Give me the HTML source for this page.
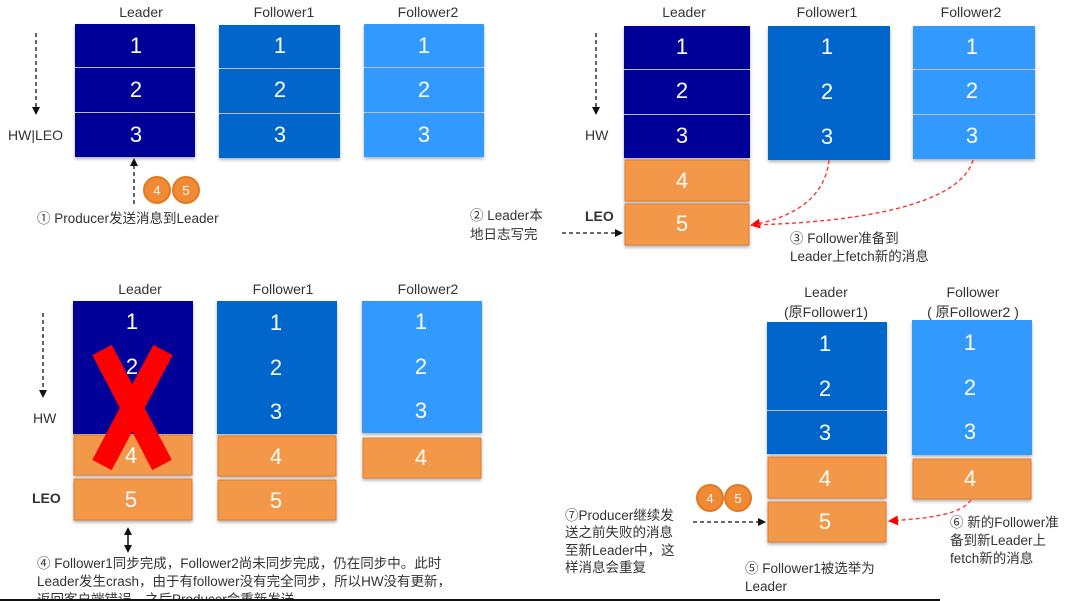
<!DOCTYPE html>
<html><head><meta charset="utf-8"><style>
html,body{margin:0;padding:0;background:#fff;width:1080px;height:601px;overflow:hidden}
svg{display:block}
text{font-family:"Liberation Sans","Noto Sans CJK SC",sans-serif}
.n{fill:#fff;font-size:22px;text-anchor:middle}
.l{fill:#333;font-size:14px;text-anchor:middle}
.t{fill:#333;font-size:13.5px}
</style></head><body>
<svg width="1080" height="601" viewBox="0 0 1080 601">
<defs>
<marker id="ab" markerWidth="8" markerHeight="8" refX="6" refY="4" orient="auto-start-reverse" markerUnits="userSpaceOnUse"><path d="M0,0 L8,4 L0,8 z" fill="#111"/></marker>
<marker id="ar" markerWidth="10" markerHeight="10" refX="8" refY="5" orient="auto" markerUnits="userSpaceOnUse"><path d="M0,0 L10,5 L0,10 z" fill="#f00"/></marker>
<filter id="sh" x="-10%" y="-10%" width="120%" height="130%"><feDropShadow dx="0" dy="2" stdDeviation="1.5" flood-color="#000" flood-opacity="0.3"/></filter>
</defs>
<g filter="url(#sh)">
<rect x="75" y="24" width="120" height="43" fill="#000099"/><rect x="75" y="68" width="120" height="44" fill="#000099"/><rect x="75" y="113" width="120" height="44" fill="#000099"/>
<rect x="219" y="25" width="121" height="43" fill="#0066cc"/><rect x="219" y="69" width="121" height="44" fill="#0066cc"/><rect x="219" y="114" width="121" height="44" fill="#0066cc"/>
<rect x="364" y="24" width="120" height="43" fill="#3399ff"/><rect x="364" y="68" width="120" height="44" fill="#3399ff"/><rect x="364" y="113" width="120" height="44" fill="#3399ff"/>
<rect x="624" y="26" width="126" height="43" fill="#000099"/><rect x="624" y="70" width="126" height="44" fill="#000099"/><rect x="624" y="115" width="126" height="43" fill="#000099"/>
<rect x="625" y="160" width="124" height="41" fill="#f39748" stroke="#e07b30"/><rect x="625" y="204" width="124" height="41" fill="#f39748" stroke="#e07b30"/>
<rect x="768" y="26" width="122" height="134" fill="#0066cc"/>
<rect x="913" y="26" width="122" height="43" fill="#3399ff"/><rect x="913" y="70" width="122" height="44" fill="#3399ff"/><rect x="913" y="115" width="122" height="44" fill="#3399ff"/>
<rect x="73" y="301" width="120" height="133" fill="#000099"/>
<rect x="74" y="435" width="118" height="40" fill="#f39748" stroke="#e07b30"/><rect x="74" y="479" width="118" height="41" fill="#f39748" stroke="#e07b30"/>
<rect x="217" y="301" width="120" height="133" fill="#0066cc"/>
<rect x="218" y="436" width="118" height="40" fill="#f39748" stroke="#e07b30"/><rect x="218" y="480" width="118" height="40" fill="#f39748" stroke="#e07b30"/>
<rect x="362" y="301" width="120" height="132" fill="#3399ff"/>
<rect x="363" y="438" width="118" height="40" fill="#f39748" stroke="#e07b30"/>
<rect x="767" y="322" width="120" height="88" fill="#0066cc"/><rect x="767" y="411" width="120" height="43" fill="#0066cc"/>
<rect x="768" y="457" width="118" height="41" fill="#f39748" stroke="#e07b30"/><rect x="768" y="502" width="118" height="40" fill="#f39748" stroke="#e07b30"/>
<rect x="912" y="320" width="120" height="135" fill="#3399ff"/>
<rect x="913" y="459" width="118" height="40" fill="#f39748" stroke="#e07b30"/>
</g>
<g class="n">
<text x="136" y="53">1</text><text x="136" y="97">2</text><text x="136" y="142">3</text>
<text x="280" y="53">1</text><text x="280" y="97">2</text><text x="280" y="142">3</text>
<text x="424" y="53">1</text><text x="424" y="97">2</text><text x="424" y="142">3</text>
<text x="682" y="54">1</text><text x="682" y="98">2</text><text x="682" y="143">3</text><text x="682" y="188">4</text><text x="682" y="231">5</text>
<text x="827" y="54">1</text><text x="827" y="99">2</text><text x="827" y="144">3</text>
<text x="972" y="54">1</text><text x="972" y="98">2</text><text x="972" y="143">3</text>
<text x="132" y="329">1</text><text x="132" y="374">2</text><text x="131" y="463">4</text><text x="131" y="507">5</text>
<text x="276" y="330">1</text><text x="276" y="375">2</text><text x="276" y="419">3</text><text x="276" y="464">4</text><text x="276" y="508">5</text>
<text x="421" y="329">1</text><text x="421" y="374">2</text><text x="421" y="418">3</text><text x="421" y="465">4</text>
<text x="825" y="351">1</text><text x="825" y="396">2</text><text x="825" y="440">3</text><text x="825" y="486">4</text><text x="825" y="529">5</text>
<text x="970" y="350">1</text><text x="970" y="395">2</text><text x="970" y="439">3</text><text x="970" y="486">4</text>
</g>
<g stroke="#f00" stroke-width="22" stroke-linecap="butt">
<line x1="102" y1="350" x2="162" y2="465"/><line x1="163" y1="350" x2="102" y2="465"/>
</g>
<g class="l">
<text x="141" y="17">Leader</text><text x="284" y="17">Follower1</text><text x="428" y="17">Follower2</text>
<text x="684" y="17">Leader</text><text x="827" y="17">Follower1</text><text x="971" y="17">Follower2</text>
<text x="140" y="294">Leader</text><text x="283" y="294">Follower1</text><text x="428" y="294">Follower2</text>
<text x="826" y="297">Leader</text><text x="826" y="317">(原Follower1)</text>
<text x="973" y="297">Follower</text><text x="973" y="317">( 原Follower2 )</text>
</g>
<g fill="#333" font-size="14">
<text x="8" y="140">HW|LEO</text>
<text x="585" y="140">HW</text>
<text x="33" y="423">HW</text>
<text x="585" y="221" font-weight="bold">LEO</text>
<text x="32" y="503" font-weight="bold">LEO</text>
</g>
<g stroke="#111" stroke-width="1.3" stroke-dasharray="4,3" fill="none">
<line x1="36" y1="33" x2="36" y2="113" marker-end="url(#ab)"/>
<line x1="134" y1="204" x2="134" y2="160" marker-end="url(#ab)"/>
<line x1="596" y1="33" x2="596" y2="113" marker-end="url(#ab)"/>
<line x1="562" y1="233" x2="621" y2="233" marker-end="url(#ab)"/>
<line x1="43" y1="313" x2="43" y2="396" marker-end="url(#ab)"/>
<line x1="693" y1="522" x2="764" y2="522" marker-end="url(#ab)"/>
</g>
<g stroke="#111" stroke-width="1.5"><line x1="128" y1="529" x2="128" y2="551" marker-end="url(#ab)" marker-start="url(#ab)"/></g>
<g stroke="#f33" stroke-width="1.4" stroke-dasharray="4,3" fill="none">
<path d="M829,160 C825,200 790,218 752,225" marker-end="url(#ar)"/>
<path d="M973,160 C960,205 860,222 752,225"/>
<path d="M971,500 C960,515 930,518 890,521" marker-end="url(#ar)"/>
</g>
<g stroke="#e27a22" stroke-width="2" fill="#f08a35">
<circle cx="157" cy="190" r="13"/><circle cx="186" cy="190" r="13"/>
<circle cx="710" cy="498" r="13"/><circle cx="738" cy="498" r="13"/>
</g>
<g fill="#fff" font-size="13" text-anchor="middle">
<text x="157" y="195">4</text><text x="186" y="195">5</text><text x="710" y="503">4</text><text x="738" y="503">5</text>
</g>
<g class="t">
<text x="37" y="223">① Producer发送消息到Leader</text>
<text x="470" y="220">② Leader本</text><text x="470" y="239">地日志写完</text>
<text x="790" y="243">③ Follower准备到</text><text x="790" y="261">Leader上fetch新的消息</text>
<text x="37" y="568">④ Follower1同步完成，Follower2尚未同步完成，仍在同步中。此时</text>
<text x="37" y="586">Leader发生crash，由于有follower没有完全同步，所以HW没有更新，</text>
<text x="37" y="604">返回客户端错误，之后Producer会重新发送。</text>
<text x="565" y="520">⑦Producer继续发</text><text x="565" y="537">送之前失败的消息</text><text x="565" y="555">至新Leader中，这</text><text x="565" y="572">样消息会重复</text>
<text x="950" y="527">⑥ 新的Follower准</text><text x="950" y="545">备到新Leader上</text><text x="950" y="563">fetch新的消息</text>
<text x="745" y="573">⑤ Follower1被选举为</text><text x="745" y="591">Leader</text>
</g>
<rect x="0" y="599" width="940" height="2" fill="#111"/>
</svg>
</body></html>
